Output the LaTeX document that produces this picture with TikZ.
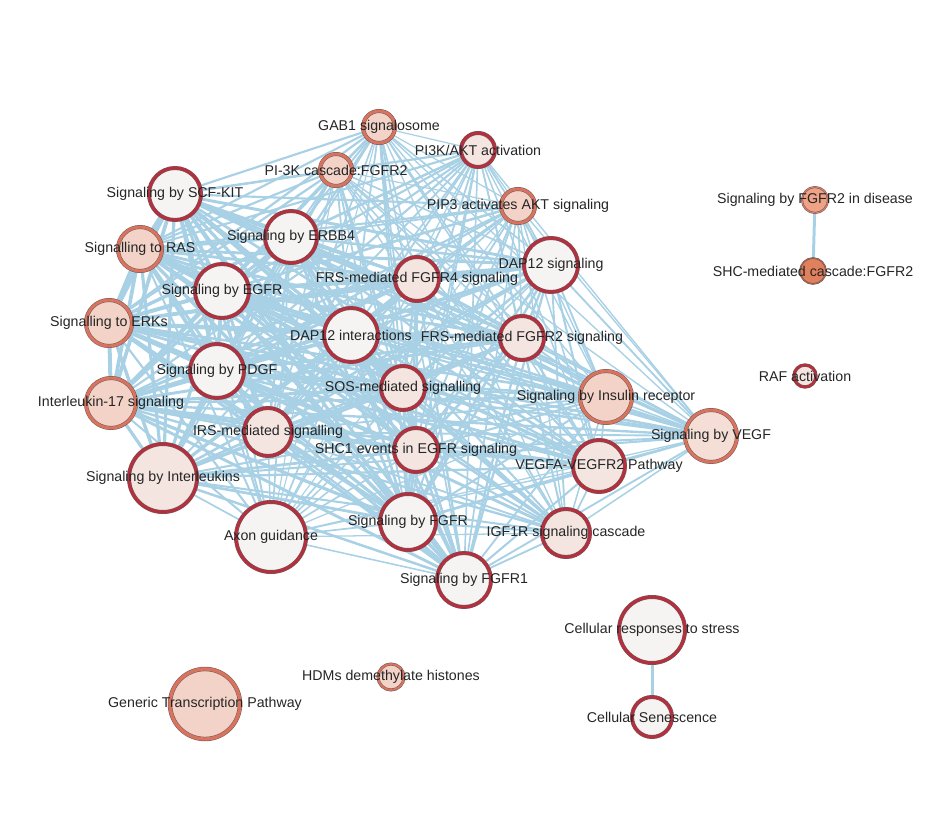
\documentclass[tikz,border=0pt]{standalone}
\usepackage{fontspec}
\setmainfont{Liberation Sans}
\usetikzlibrary{backgrounds}

\definecolor{linkblue}{HTML}{A9D1E5}
\definecolor{crimson}{HTML}{B5303F}
\definecolor{rust}{HTML}{D9735E}
\definecolor{rimgray}{HTML}{6E5A5A}
\definecolor{paleface}{HTML}{F6F4F3}
\definecolor{pinkface}{HTML}{F4E5E0}
\definecolor{peachface}{HTML}{F3D3C7}
\definecolor{salmonface}{HTML}{EEA286}
\definecolor{orangeface}{HTML}{E1805D}
\definecolor{labelgray}{HTML}{252525}

% pathway nodes of the cluster, with a weight for the link widths
\newcommand{\clusterlist}{gab/0.8, pikc/0.8, pitk/0.8, pip/0.8, scfkit/1.4,
  erbb/1.2, ras/1.4, dapsig/1.1, fgfrfour/1.1, egfr/1.4, erks/1.5, dapint/1.2,
  fgfrtwo/1.1, pdgf/1.4, sos/1.2, insulin/0.9, ilseventeen/1.4, vegf/0.9,
  irs/1.1, shcone/1.2, vegfa/1.0, interleukins/1.2, axon/0.75, fgfr/1.2,
  igfr/0.9, fgfrone/1.1}

\begin{document}
\begin{tikzpicture}[x=1pt,y=-1pt,
    pathway/.style={circle,inner sep=0pt,line width=0.5pt,double distance=3pt},
    plain/.style={pathway,draw=rimgray,double=crimson,fill=paleface},
    pink/.style={pathway,draw=rimgray,double=crimson,fill=pinkface},
    peach/.style={pathway,draw=rimgray,double=rust,fill=peachface},
    link/.style={draw=linkblue,line cap=round},
    tag/.style={font=\fontsize{14.2}{17}\selectfont,text=labelgray,inner sep=0pt}]

    \useasboundingbox (0,0) rectangle (927,835);

    \node[peach,minimum size=32] (gab) at (379,127) {};
    \node[pink,minimum size=34] (pitk) at (478,150) {};
    \node[peach,minimum size=32] (pikc) at (336,170) {};
    \node[plain,minimum size=52] (scfkit) at (175,194) {};
    \node[peach,minimum size=34] (pip) at (518,206) {};
    \node[plain,minimum size=52] (erbb) at (291,237) {};
    \node[peach,minimum size=44] (ras) at (140,249) {};
    \node[plain,minimum size=54] (dapsig) at (551,265) {};
    \node[pink,minimum size=44] (fgfrfour) at (417,279) {};
    \node[plain,minimum size=54] (egfr) at (222,291) {};
    \node[peach,minimum size=46] (erks) at (109,323) {};
    \node[plain,minimum size=54] (dapint) at (351,335) {};
    \node[pink,minimum size=44] (fgfrtwo) at (522,338) {};
    \node[plain,minimum size=54] (pdgf) at (217,371) {};
    \node[pink,minimum size=44] (sos) at (403,388) {};
    \node[peach,minimum size=52] (insulin) at (606,397) {};
    \node[pink,minimum size=22,double distance=2.4pt] (raf) at (805,376) {};
    \node[peach,minimum size=50] (ilseventeen) at (111,403) {};
    \node[peach,minimum size=52,fill=pinkface!60!peachface] (vegf) at (711,436) {};
    \node[pink,minimum size=48] (irs) at (268,432) {};
    \node[pink,minimum size=44] (shcone) at (416,450) {};
    \node[pink,minimum size=52] (vegfa) at (599,466) {};
    \node[pink,minimum size=68] (interleukins) at (163,478) {};
    \node[plain,minimum size=70] (axon) at (271,537) {};
    \node[plain,minimum size=56] (fgfr) at (408,522) {};
    \node[pink,minimum size=48] (igfr) at (566,533) {};
    \node[plain,minimum size=54] (fgfrone) at (464,580) {};
    \node[plain,minimum size=66] (stress) at (652,630) {};
    \node[peach,minimum size=26,double distance=2pt] (hdm) at (391,677) {};
    \node[peach,minimum size=70,double distance=3.4pt] (generic) at (205,704) {};
    \node[plain,minimum size=40] (senescence) at (652,717) {};
    \node[pathway,draw=rimgray,double=rust!80!salmonface,double distance=1pt,
      fill=salmonface,minimum size=26] (fgfrdis) at (815,200) {};
    \node[pathway,draw=rimgray,double=orangeface!80!black,double distance=0.6pt,
      fill=orangeface,minimum size=26] (shcfgfr) at (813,271) {};

    % links, behind the circles
    \begin{pgfonlayer}{background}
    \foreach \a/\wa [count=\i] in \clusterlist {
      \foreach \b/\wb [count=\j] in \clusterlist {
        \pgfmathsetmacro\lw{1.9*\wa*\wb}
        \ifnum\j>\i
          \pgfmathparse{\wa*\wb<0.55 ? 0 : 1}
          \ifnum\pgfmathresult=1
            \draw[link,line width=\lw pt] (\a) -- (\b);
          \fi
        \fi
      }
    }
    \draw[link,line width=3pt] (fgfrdis) -- (shcfgfr);
    \draw[link,line width=3pt] (stress) -- (senescence);
    \end{pgfonlayer}

    % labels on top of everything
    \foreach \n/\t in {gab/GAB1 signalosome, pitk/{PI3K/AKT activation},
      pikc/PI-3K cascade:FGFR2, scfkit/Signaling by SCF-KIT,
      pip/PIP3 activates AKT signaling, erbb/Signaling by ERBB4,
      ras/Signalling to RAS, dapsig/DAP12 signaling,
      fgfrfour/FRS-mediated FGFR4 signaling, egfr/Signaling by EGFR,
      erks/Signalling to ERKs, dapint/DAP12 interactions,
      fgfrtwo/FRS-mediated FGFR2 signaling, pdgf/Signaling by PDGF,
      sos/SOS-mediated signalling, insulin/Signaling by Insulin receptor,
      raf/RAF activation, ilseventeen/Interleukin-17 signaling,
      vegf/Signaling by VEGF, irs/IRS-mediated signalling,
      shcone/SHC1 events in EGFR signaling, vegfa/VEGFA-VEGFR2 Pathway,
      interleukins/Signaling by Interleukins, axon/Axon guidance,
      fgfr/Signaling by FGFR, igfr/IGF1R signaling cascade,
      fgfrone/Signaling by FGFR1, stress/Cellular responses to stress,
      hdm/HDMs demethylate histones, generic/Generic Transcription Pathway,
      senescence/Cellular Senescence, fgfrdis/Signaling by FGFR2 in disease,
      shcfgfr/SHC-mediated cascade:FGFR2}
      \node[tag] at (\n) {\t};

\end{tikzpicture}
\end{document}
